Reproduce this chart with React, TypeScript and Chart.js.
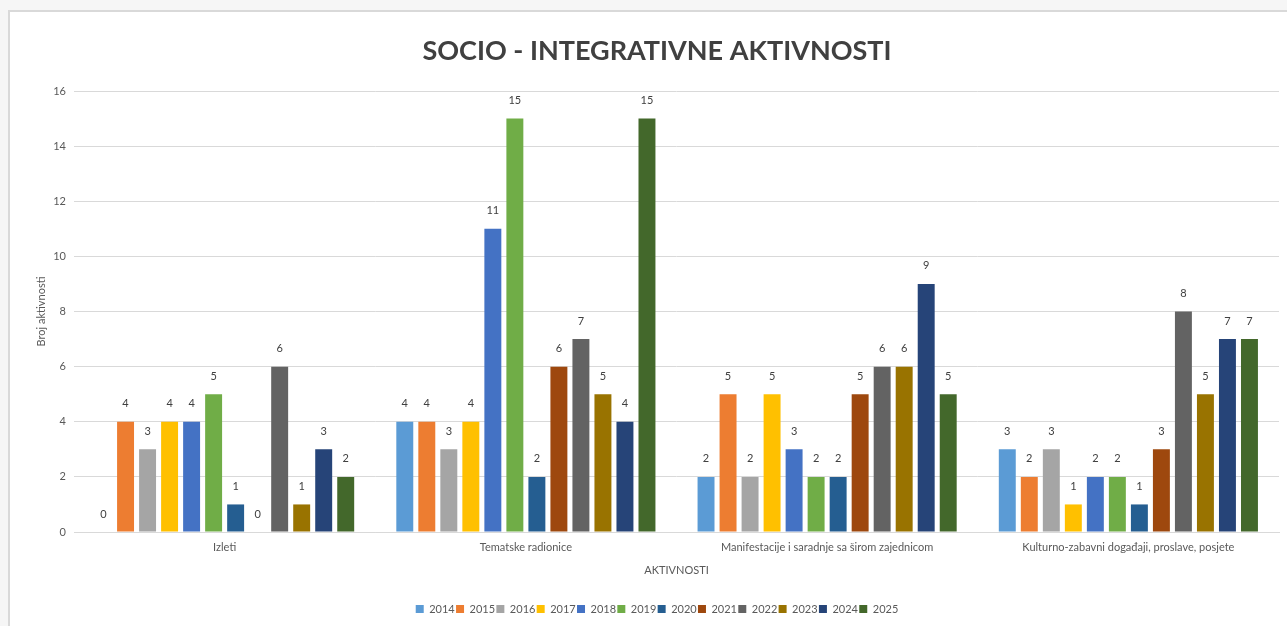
import React, { useEffect, useRef } from "react";
import { Chart, registerables } from "chart.js";

Chart.register(...registerables);

const categories = [
  "Izleti",
  "Tematske radionice",
  "Manifestacije i saradnje sa širom zajednicom",
  "Kulturno-zabavni događaji, proslave, posjete",
];

const years = ["2014", "2015", "2016", "2017", "2018", "2019", "2020", "2021", "2022", "2023", "2024", "2025"];

const v2014 = [0, 4, 2, 3];
const v2015 = [4, 4, 5, 2];
const v2016 = [3, 3, 2, 3];
const v2017 = [4, 4, 5, 1];
const v2018 = [4, 11, 3, 2];
const v2019 = [5, 15, 2, 2];
const v2020 = [1, 2, 2, 1];
const v2021 = [0, 6, 5, 3];
const v2022 = [6, 7, 6, 8];
const v2023 = [1, 5, 6, 5];
const v2024 = [3, 4, 9, 7];
const v2025 = [2, 15, 5, 7];

const seriesValues = [v2014, v2015, v2016, v2017, v2018, v2019, v2020, v2021, v2022, v2023, v2024, v2025];

const colors = [
  "#5B9BD5", "#ED7D31", "#A5A5A5", "#FFC000", "#4472C4", "#70AD47",
  "#255E91", "#9E480E", "#636363", "#997300", "#264478", "#43682B",
];

const yTicks = [0, 2, 4, 6, 8, 10, 12, 14, 16];

const FONT = "Lato, 'Open Sans', sans-serif";

const valueLabels = {
  id: "valueLabels",
  afterDatasetsDraw(chart: any) {
    const ctx = chart.ctx;
    ctx.save();
    ctx.font = `11px ${FONT}`;
    ctx.fillStyle = "#404040";
    ctx.textAlign = "center";
    ctx.textBaseline = "middle";
    chart.data.datasets.forEach((ds: any, i: number) => {
      const meta = chart.getDatasetMeta(i);
      meta.data.forEach((el: any, j: number) => {
        ctx.fillText(String(ds.data[j]), el.x, el.y - 18);
      });
    });
    ctx.restore();
  },
};

export default function App() {
  const ref = useRef<HTMLCanvasElement | null>(null);

  useEffect(() => {
    if (!ref.current) return;
    const chart = new Chart(ref.current, {
      type: "bar",
      data: {
        labels: categories,
        datasets: years.map((y, i) => ({
          label: y,
          data: seriesValues[i],
          backgroundColor: colors[i],
          borderWidth: 0,
          categoryPercentage: 0.877,
          barPercentage: 0.77,
        })),
      },
      options: {
        responsive: false,
        animation: false,
        layout: { padding: { left: 25, right: 8, top: 0, bottom: 1.5 } },
        plugins: {
          title: {
            display: true,
            text: "SOCIO - INTEGRATIVNE AKTIVNOSTI",
            color: "#404040",
            font: { family: FONT, size: 27, weight: "bold", lineHeight: 1.2 },
            padding: { top: 22.8, bottom: 23.8 },
          },
          legend: {
            position: "bottom",
            labels: {
              color: "#595959",
              font: { family: FONT, size: 11 },
              boxWidth: 8,
              boxHeight: 8,
              padding: 1.3,
            },
          },
          tooltip: { enabled: false },
        },
        scales: {
          x: {
            grid: { display: false },
            border: { display: true, color: "#d9d9d9", width: 1 },
            ticks: { color: "#595959", font: { family: FONT, size: 11 }, padding: 1, maxRotation: 0 },
            title: {
              display: true,
              text: "AKTIVNOSTI",
              color: "#595959",
              font: { family: FONT, size: 11, lineHeight: 1.2 },
              padding: { top: 0, bottom: 25.6 },
            },
            afterFit: (scale: any) => {
              scale.height = 70.2;
            },
          },
          y: {
            min: 0,
            max: 16,
            grid: { color: "#d9d9d9", lineWidth: 1, drawTicks: false },
            border: { display: false },
            afterBuildTicks: (scale: any) => {
              scale.ticks = yTicks.map((v) => ({ value: v }));
            },
            ticks: { color: "#595959", font: { family: FONT, size: 11 }, padding: 8 },
            title: {
              display: true,
              text: "Broj aktivnosti",
              color: "#595959",
              font: { family: FONT, size: 11, lineHeight: 1.2 },
              padding: { top: 0, bottom: 0 },
            },
            afterFit: (scale: any) => {
              scale.width = 39;
            },
          },
        },
      },
      plugins: [valueLabels],
    });
    return () => chart.destroy();
  }, []);

  return (
    <div style={{ position: "fixed", left: 0, top: 0, width: 1287, height: 626, background: "#f6f6f6", overflow: "hidden" }}>
      <div
        style={{
          position: "absolute",
          left: 8,
          top: 10,
          width: 1300,
          height: 640,
          border: "2px solid #d9d9d9",
          background: "#ffffff",
        }}
      >
        <canvas ref={ref} width={1277} height={614} style={{ display: "block", width: 1277, height: 614 }} />
      </div>
    </div>
  );
}
